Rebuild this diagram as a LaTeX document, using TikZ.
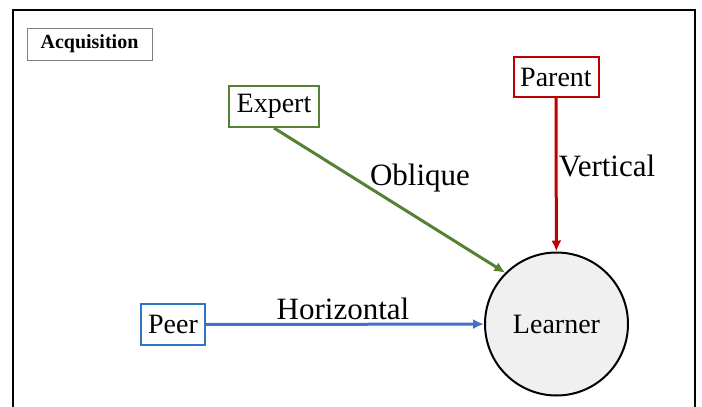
\documentclass[tikz,border=0pt]{standalone}
\usepackage{fontspec}
\setmainfont{Liberation Serif}
\usepackage{tikz}
\usetikzlibrary{arrows.meta}

\definecolor{ParentRed}{HTML}{C00000}
\definecolor{ExpertGreen}{HTML}{548235}
\definecolor{PeerBlue}{HTML}{2E75C6}
\definecolor{LinkBlue}{HTML}{4472C4}
\definecolor{LearnerFill}{HTML}{F0F0F0}

\tikzset{
  agent/.style={draw, line width=2pt, fill=white, inner sep=0pt,
    font=\fontsize{28}{30}\selectfont},
  link/.style={line width=3pt, -{Latex[length=11pt,width=10pt]}},
  linklabel/.style={font=\fontsize{31}{33}\selectfont}
}

\begin{document}
\begin{tikzpicture}[x=1pt,y=-1pt]
        \useasboundingbox (0,0) rectangle (702,407);
        \draw [line width=2.5pt] (13,407) -- (13,10) -- (695,10) -- (695,407);

        \node [draw=gray, line width=1pt, minimum width=125pt, minimum height=32pt,
          font=\bfseries\fontsize{20}{22}\selectfont] (title) at (89.5,44) {Acquisition};

        \node [agent, draw=ParentRed, minimum width=85pt, minimum height=40pt] (parent) at (556,77) {Parent};
        \node [agent, draw=ExpertGreen, minimum width=90pt, minimum height=41pt] (expert) at (274,106.5) {Expert};
        \node [agent, draw=PeerBlue, minimum width=64pt, minimum height=41pt] (peer) at (173,324.5) {Peer};

        \node [circle, draw, line width=2pt, fill=LearnerFill, minimum size=143pt, inner sep=0pt,
          font=\fontsize{28}{30}\selectfont] (learner) at (556.5,324) {Learner};

        \draw [link, ParentRed] (parent) -- (learner);
        \draw [link, ExpertGreen] (expert.south) -- (learner.135);
        \draw [link, LinkBlue] (peer) -- (learner);

        \node [linklabel] (vlabel) at (607,166) {Vertical};
        \node [linklabel] (olabel) at (420,178) {Oblique};
        \node [linklabel] (hlabel) at (343,309) {Horizontal};
    \end{tikzpicture}
\end{document}
